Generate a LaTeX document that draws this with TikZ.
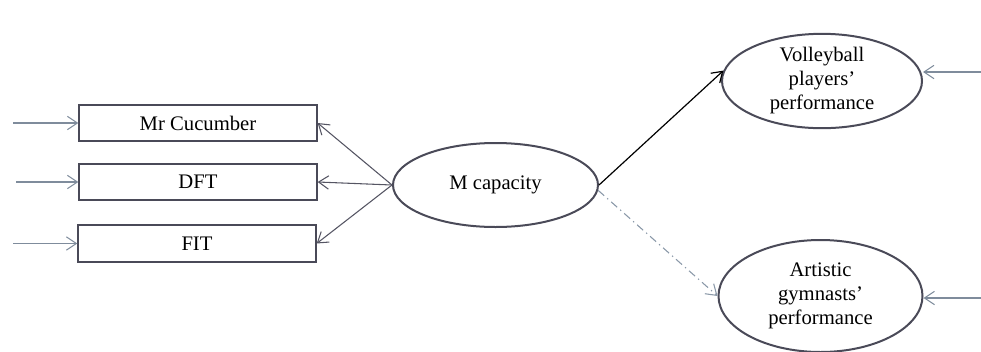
\documentclass[tikz,border=0pt]{standalone}
\usepackage{fontspec}
\setmainfont{Liberation Serif}
\usetikzlibrary{arrows.meta,shapes.geometric}
\definecolor{boxline}{HTML}{4A4A58}
\definecolor{inarrow}{HTML}{7F8C9C}
\definecolor{outarrow}{HTML}{555563}
\definecolor{dasharrow}{HTML}{8A98A8}
\tikzset{
  txt/.style={font=\fontsize{15.5}{18}\selectfont, align=center, inner sep=0pt},
  obsbox/.style={txt, draw=boxline, line width=1.5pt, rectangle, minimum width=178pt, minimum height=27.5pt},
  latent/.style={txt, draw=boxline, line width=1.5pt, ellipse},
  tip/.style={-{Straight Barb[length=7.5pt,width=10pt]}},
  inarr/.style={tip, draw=inarrow, line width=0.8pt},
  outarr/.style={tip, draw=outarrow, line width=0.8pt},
}
\begin{document}
\begin{tikzpicture}[x=0.75pt,y=-0.75pt]
\useasboundingbox (0,0) rectangle (981,351);
\node[obsbox] (mr) at (198,123) {Mr Cucumber};
\node[obsbox] (dft) at (198,182) {DFT};
\node[obsbox] (fit) at (197,243.5) {FIT};
\node[latent, minimum width=153.75pt, minimum height=63pt] (mc) at (495.5,185) {M capacity};
\node[latent, minimum width=150pt, minimum height=69pt] (vb) at (822,81) {Volleyball\\players'\\performance};
\node[latent, minimum width=153pt, minimum height=84pt] (ag) at (820.5,296) {Artistic\\gymnasts'\\performance};
\coordinate (l1) at (13,123);
\coordinate (l2) at (16,182);
\coordinate (l3) at (13,243.5);
\coordinate (r1) at (981,72);
\coordinate (r2) at (981,298);
\draw[inarr] (l1) -- (mr.west);
\draw[inarr] (l2) -- (dft.west);
\draw[inarr] (l3) -- (fit.west);
\draw[outarr] (mc.west) -- (mr.east);
\draw[outarr] (mc.west) -- (dft.east);
\draw[outarr] (mc.west) -- (fit.east);
\draw[tip, black, line width=0.9pt] (mc.east) -- (vb.174);
\draw[tip, draw=dasharrow, line width=0.8pt, dash pattern=on 6pt off 3pt on 1pt off 3pt] (mc.-3) -- (ag.west);
\draw[inarr] (r1) -- (vb.east |- r1);
\draw[inarr] (r2) -- (ag.east |- r2);
\end{tikzpicture}
\end{document}
